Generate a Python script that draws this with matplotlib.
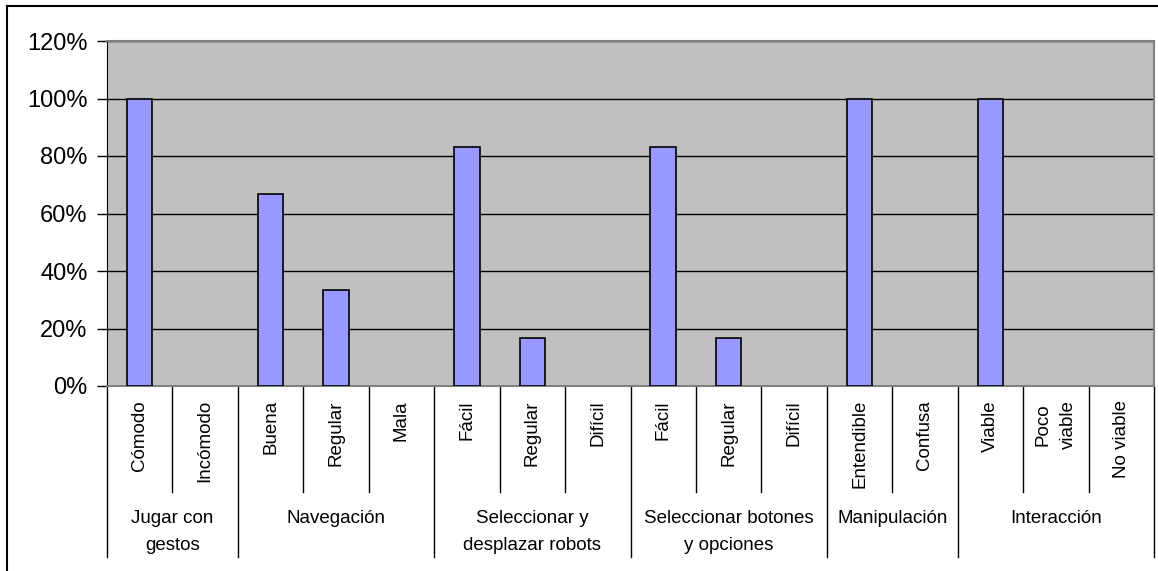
import matplotlib.pyplot as plt
from matplotlib.ticker import FuncFormatter
import matplotlib.transforms as mtransforms

plt.rcParams['font.family'] = ['Liberation Sans', 'DejaVu Sans']

# Response categories, grouped by evaluated aspect
groups = ["Jugar con\ngestos", "Navegación", "Seleccionar y\ndesplazar robots",
          "Seleccionar botones\ny opciones", "Manipulación", "Interacción"]
options = [
    ["Cómodo", "Incómodo"],
    ["Buena", "Regular", "Mala"],
    ["Fácil", "Regular", "Difícil"],
    ["Fácil", "Regular", "Difícil"],
    ["Entendible", "Confusa"],
    ["Viable", "Poco\nviable", "No viable"],
]
values = [
    [100, 0],
    [66.7, 33.3, 0],
    [83.3, 16.7, 0],
    [83.3, 16.7, 0],
    [100, 0],
    [100, 0, 0],
]
y_ticks = [0, 20, 40, 60, 80, 100, 120]

labels = [o for grp in options for o in grp]
heights = [v for grp in values for v in grp]
n = len(labels)

W, H = 1158, 571
fig = plt.figure(figsize=(W / 100, H / 100), dpi=100)
fig.patch.set_facecolor('white')

left_px, right_px, top_px, bottom_px = 107, 1154, 41, 386
ax = fig.add_axes([left_px / W, 1 - bottom_px / H,
                   (right_px - left_px) / W, (bottom_px - top_px) / H])
ax.set_facecolor('#C0C0C0')

x = list(range(n))
edge_widths = [1.2 if h > 0 else 0 for h in heights]
ax.bar(x, heights, width=0.39, color='#9999FF', edgecolor='black',
       linewidth=edge_widths, zorder=3)

ax.set_xlim(-0.5, n - 0.5)
ax.set_ylim(0, 120)
ax.set_yticks(y_ticks)
ax.yaxis.set_major_formatter(FuncFormatter(lambda v, p: f"{v:.0f}%"))
ax.tick_params(axis='y', length=7, width=1, labelsize=17, pad=7,
               colors='black')
ax.set_xticks([])
ax.yaxis.grid(True, color='black', linewidth=1, zorder=1)
ax.set_axisbelow(True)

for side in ['top', 'right']:
    ax.spines[side].set_color('#808080')
    ax.spines[side].set_linewidth(1.5)
ax.spines['left'].set_color('black')
ax.spines['bottom'].set_color('#808080')
ax.spines['bottom'].set_linewidth(1.5)

trans = mtransforms.blended_transform_factory(ax.transData, ax.transAxes)
plot_h = bottom_px - top_px
inner_y = -(492 - bottom_px) / plot_h
outer_y = -(557 - bottom_px) / plot_h
label_y = -(400 - bottom_px) / plot_h
group_y = -(510 - bottom_px) / plot_h

# Separators: short ones between options, long ones between groups
boundaries = [-0.5]
pos = -0.5
for grp in options:
    for j in range(len(grp)):
        pos += 1
        if j < len(grp) - 1:
            ax.plot([pos, pos], [0, inner_y], color='black', lw=1,
                    transform=trans, clip_on=False)
    boundaries.append(pos)
for b in boundaries:
    ax.plot([b, b], [0, outer_y], color='black', lw=1,
            transform=trans, clip_on=False)

# Option labels
for xi, lab in zip(x, labels):
    ax.text(xi, label_y, lab, rotation=90, ha='center', va='top',
            fontsize=13.5, transform=trans, linespacing=1.6)

# Group labels
for gi, g in enumerate(groups):
    cx = (boundaries[gi] + boundaries[gi + 1]) / 2
    ax.text(cx, group_y, g, ha='center', va='top', fontsize=13.5,
            transform=trans, linespacing=1.8)

# Chart border (top and left edges)
fig.add_artist(plt.Line2D([6.5 / W, 6.5 / W], [0, 1 - 5.5 / H],
                          color='black', lw=1.5, transform=fig.transFigure))
fig.add_artist(plt.Line2D([6.5 / W, 1], [1 - 5.5 / H, 1 - 5.5 / H],
                          color='black', lw=1.5, transform=fig.transFigure))

fig.savefig('out.png', dpi=100)
